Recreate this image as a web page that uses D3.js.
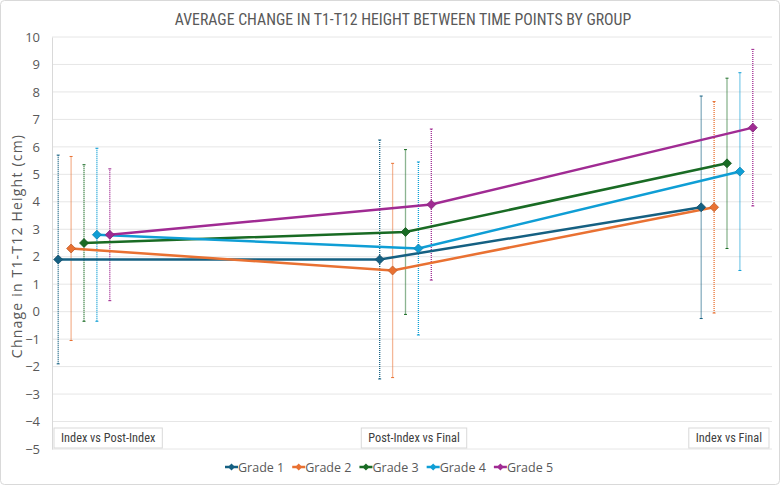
<!DOCTYPE html>
<html>
<head>
<meta charset="utf-8">
<script src="https://cdn.jsdelivr.net/npm/d3@7"></script>
<style>
  body { margin: 0; background: #fff; }
  text { font-family: "Open Sans", "Liberation Sans", sans-serif; }
  .narrow { font-family: "Liberation Sans Narrow", "Roboto Condensed", "DejaVu Sans Condensed", sans-serif; }
</style>
</head>
<body>
<div id="chart"></div>
<script>
// Chart data
const categories = ["Index vs Post-Index", "Post-Index vs Final", "Index vs Final"];
const grades = ["Grade 1", "Grade 2", "Grade 3", "Grade 4", "Grade 5"];
const colors = ["#156082", "#E97132", "#196B24", "#0F9ED5", "#A02B93"];
// mean change per grade, one value per category
const means = [
  [1.9, 1.9, 3.8],
  [2.3, 1.5, 3.8],
  [2.5, 2.9, 5.4],
  [2.8, 2.3, 5.1],
  [2.8, 3.9, 6.7]
];
// +/- error per grade, one value per category
const errors = [
  [3.8, 4.35, 4.05],
  [3.35, 3.9, 3.85],
  [2.85, 3.0, 3.1],
  [3.15, 3.15, 3.6],
  [2.4, 2.75, 2.85]
];
const yTicks = [-5, -4, -3, -2, -1, 0, 1, 2, 3, 4, 5, 6, 7, 8, 9, 10];

const width = 780;
const height = 485;
const plot = { left: 52, right: 772, top: 37, bottom: 449 };

const svg = d3.select("#chart")
  .append("svg")
  .attr("width", width)
  .attr("height", height);

// outer border
svg.append("rect")
  .attr("x", 0.5).attr("y", 0.5)
  .attr("width", width - 1).attr("height", height - 1)
  .attr("rx", 4)
  .attr("fill", "#fff")
  .attr("stroke", "#D9D9D9");

// scales
const y = d3.scaleLinear().domain([-5, 10]).range([plot.bottom, plot.top]);
const x = d3.scalePoint().domain(categories).range([84, 727]);
const offset = d3.scalePoint().domain(grades).range([-25.8, 25.8]);
const px = (g, c) => x(categories[c]) + offset(grades[g]);

// gridlines
svg.append("g")
  .selectAll("line")
  .data(yTicks)
  .join("line")
  .attr("x1", plot.left).attr("x2", plot.right)
  .attr("y1", d => y(d)).attr("y2", d => y(d))
  .attr("stroke", "#E6E6E6")
  .attr("stroke-width", 1);

// left axis
const yAxis = svg.append("g")
  .attr("transform", `translate(${plot.left},0)`)
  .call(d3.axisLeft(y).tickValues(yTicks).tickSize(0).tickPadding(12));
yAxis.select(".domain").attr("stroke", "#D9D9D9");
yAxis.selectAll("text")
  .attr("fill", "#595959")
  .style("font-family", "'Open Sans', sans-serif")
  .style("font-size", "13px");

// y-axis title
svg.append("text")
  .attr("transform", `translate(22,${(plot.top + plot.bottom) / 2 + 3}) rotate(-90)`)
  .attr("text-anchor", "middle")
  .attr("fill", "#595959")
  .style("font-size", "14px")
  .style("letter-spacing", "1.2px")
  .text("Chnage in T1-T12 Height (cm)");

// chart title
svg.append("text")
  .attr("class", "narrow")
  .attr("x", 403)
  .attr("y", 25)
  .attr("text-anchor", "middle")
  .attr("fill", "#595959")
  .style("font-size", "15.8px")
  .text("AVERAGE CHANGE IN T1-T12 HEIGHT BETWEEN TIME POINTS BY GROUP");

// category label boxes
const boxes = svg.append("g");
categories.forEach((c, i) => {
  const t = boxes.append("text")
    .attr("class", "narrow")
    .attr("y", 442)
    .attr("fill", "#404040")
    .style("font-size", "12.3px")
    .text(c);
  const w = t.node().getComputedTextLength() + 14;
  let bx;
  if (i === 0) bx = plot.left + 2;
  else if (i === categories.length - 1) bx = plot.right - 3 - w;
  else bx = (plot.left + plot.right) / 2 - w / 2 + 2;
  t.attr("x", bx + 7);
  boxes.insert("rect", "text")
    .attr("x", bx).attr("y", 428)
    .attr("width", w).attr("height", 20)
    .attr("fill", "#fff")
    .attr("stroke", "#D9D9D9");
});

// error bars
grades.forEach((g, gi) => {
  const eg = svg.append("g").attr("stroke", colors[gi]);
  means[gi].forEach((m, ci) => {
    const cx = px(gi, ci);
    eg.append("line")
      .attr("x1", cx).attr("x2", cx)
      .attr("y1", y(m - errors[gi][ci])).attr("y2", y(m + errors[gi][ci]))
      .attr("stroke-width", 1.3)
      .attr("stroke-dasharray", "1,1");
    [m - errors[gi][ci], m + errors[gi][ci]].forEach(v => {
      eg.append("line")
        .attr("x1", cx - 1.5).attr("x2", cx + 1.5)
        .attr("y1", y(v)).attr("y2", y(v))
        .attr("stroke-width", 1);
    });
  });
});

// series lines
const line = d3.line()
  .x(d => d[0])
  .y(d => y(d[1]));
grades.forEach((g, gi) => {
  svg.append("path")
    .datum(means[gi].map((m, ci) => [px(gi, ci), m]))
    .attr("d", line)
    .attr("fill", "none")
    .attr("stroke", colors[gi])
    .attr("stroke-width", 2.5);
});

// markers
const diamond = "M0,-4.5L4.5,0L0,4.5L-4.5,0Z";
grades.forEach((g, gi) => {
  svg.append("g")
    .selectAll("path")
    .data(means[gi])
    .join("path")
    .attr("d", diamond)
    .attr("transform", (m, ci) => `translate(${px(gi, ci)},${y(m)})`)
    .attr("fill", colors[gi])
    .attr("stroke", d3.color(colors[gi]).darker(0.6))
    .attr("stroke-width", 0.75);
});

// legend
const legend = svg.append("g").attr("transform", "translate(225,467)");
let lx = 0;
grades.forEach((g, gi) => {
  const item = legend.append("g").attr("transform", `translate(${lx},0)`);
  item.append("line")
    .attr("x1", 0).attr("x2", 13)
    .attr("stroke", colors[gi])
    .attr("stroke-width", 2.5);
  item.append("path")
    .attr("d", "M0,-3.5L3.5,0L0,3.5L-3.5,0Z")
    .attr("transform", "translate(6.5,0)")
    .attr("fill", colors[gi]);
  const t = item.append("text")
    .attr("x", 13)
    .attr("y", 4.5)
    .attr("fill", "#595959")
    .style("font-size", "12.5px")
    .text(g);
  lx += 13 + t.node().getComputedTextLength() + 8;
});
</script>
</body>
</html>
